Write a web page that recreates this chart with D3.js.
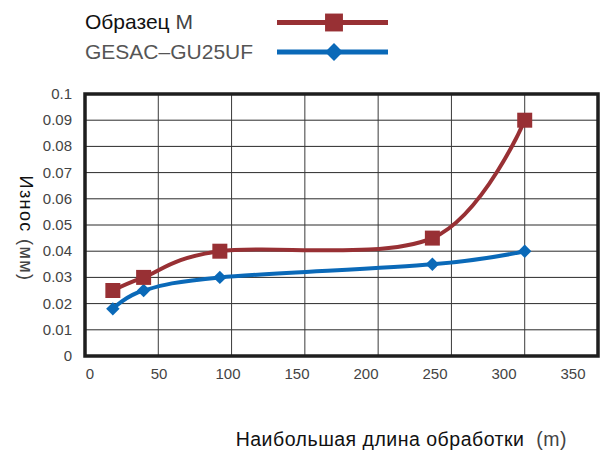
<!DOCTYPE html>
<html>
<head>
<meta charset="utf-8">
<script src="https://cdn.jsdelivr.net/npm/d3@7"></script>
<style>
  body { margin: 0; background: #fff; }
  svg { display: block; font-family: "Liberation Sans", Arial, sans-serif; }
  .pre { white-space: pre; }
</style>
</head>
<body>
<div id="chart"></div>
<script>
// data
const distance = [19, 40, 92, 237, 300];
const sampleM = [0.025, 0.030, 0.040, 0.045, 0.090];
const gesac = [0.018, 0.025, 0.030, 0.035, 0.040];
const seriesNames = ["Образец", "GESAC\u2013GU25UF"];
const xTicks = [0, 50, 100, 150, 200, 250, 300, 350];
const yTicks = [0, 0.01, 0.02, 0.03, 0.04, 0.05, 0.06, 0.07, 0.08, 0.09, 0.1];

const width = 609, height = 451;
const margin = {top: 94, right: 11, bottom: 95, left: 85};
const red = "#983034", blue = "#0a69b8";

const svg = d3.select("#chart").append("svg")
  .attr("width", width)
  .attr("height", height);

const x = d3.scaleLinear().domain([0, 350]).range([margin.left, width - margin.right]);
const y = d3.scaleLinear().domain([0, 0.1]).range([height - margin.bottom, margin.top]);
// tick labels in the original sit a bit left of their grid lines
const xLabel = d3.scaleLinear().domain([0, 350]).range([90, 573]);

// grid
svg.append("g").selectAll("line")
  .data(yTicks.slice(1, -1))
  .join("line")
  .attr("x1", x(0)).attr("x2", x(350))
  .attr("y1", d => y(d)).attr("y2", d => y(d))
  .attr("stroke", "#2a2a2a").attr("stroke-width", 1);

svg.append("g").selectAll("line")
  .data(xTicks.slice(1, -1))
  .join("line")
  .attr("x1", d => x(d)).attr("x2", d => x(d))
  .attr("y1", y(0)).attr("y2", y(0.1))
  .attr("stroke", "#3a3a3a").attr("stroke-width", 1);

svg.append("rect")
  .attr("x", x(0)).attr("y", y(0.1))
  .attr("width", x(350) - x(0)).attr("height", y(0) - y(0.1))
  .attr("fill", "none").attr("stroke", "#1e1e1e").attr("stroke-width", 3.5);

// tick labels
svg.append("g").selectAll("text")
  .data(yTicks)
  .join("text")
  .attr("x", 72)
  .attr("y", d => y(d) + 5)
  .attr("text-anchor", "end")
  .attr("font-size", 15)
  .attr("fill", "#444")
  .text(d => d3.format("~g")(d));

svg.append("g").selectAll("text")
  .data(xTicks)
  .join("text")
  .attr("x", d => xLabel(d))
  .attr("y", 379)
  .attr("text-anchor", "middle")
  .attr("font-size", 15)
  .attr("fill", "#444")
  .text(d => d);

// axis titles
const yTitle = svg.append("text")
  .attr("class", "pre")
  .attr("transform", "translate(20,228.5) rotate(90)")
  .attr("text-anchor", "middle")
  .attr("font-size", 18)
  .attr("letter-spacing", 1.4);
yTitle.append("tspan").attr("fill", "#111").text("Износ ");
yTitle.append("tspan").attr("fill", "#444").text("(мм)");

const xTitle = svg.append("text")
  .attr("class", "pre")
  .attr("x", 567).attr("y", 446)
  .attr("text-anchor", "end")
  .attr("font-size", 19.5)
  .attr("letter-spacing", 0.5);
xTitle.append("tspan").attr("fill", "#111").text("Наибольшая длина обработки  ");
xTitle.append("tspan").attr("fill", "#444").text("(m)");

// lines
const line = d3.line()
  .x((d, i) => x(distance[i]))
  .y(d => y(d))
  .curve(d3.curveCatmullRom.alpha(0));

svg.append("path").datum(sampleM)
  .attr("d", line).attr("fill", "none")
  .attr("stroke", red).attr("stroke-width", 4);

svg.append("path").datum(gesac)
  .attr("d", line).attr("fill", "none")
  .attr("stroke", blue).attr("stroke-width", 4);

const square = d3.symbol().type(d3.symbolSquare);
const diamond = d3.symbol().type(d3.symbolSquare);

svg.append("g").selectAll("path")
  .data(gesac)
  .join("path")
  .attr("transform", (d, i) => `translate(${x(distance[i])},${y(d)}) rotate(45)`)
  .attr("d", diamond.size(90))
  .attr("fill", blue);

svg.append("g").selectAll("path")
  .data(sampleM)
  .join("path")
  .attr("transform", (d, i) => `translate(${x(distance[i])},${y(d)})`)
  .attr("d", square.size(225))
  .attr("fill", red);

// legend
const legend = svg.append("g");
const leg1 = legend.append("text").attr("x", 85).attr("y", 29).attr("font-size", 21);
leg1.append("tspan").attr("fill", "#111").text(seriesNames[0] + " ");
leg1.append("tspan").attr("fill", "#444").text("M");
legend.append("text").attr("x", 85).attr("y", 59).attr("font-size", 21)
  .attr("fill", "#555").text(seriesNames[1]);

legend.append("line").attr("x1", 277).attr("x2", 388).attr("y1", 22.5).attr("y2", 22.5)
  .attr("stroke", red).attr("stroke-width", 5);
legend.append("path").attr("transform", "translate(334,22.5)")
  .attr("d", square.size(320)).attr("fill", red);

legend.append("line").attr("x1", 277).attr("x2", 388).attr("y1", 52).attr("y2", 52)
  .attr("stroke", blue).attr("stroke-width", 5);
legend.append("path").attr("transform", "translate(334,52) rotate(45)")
  .attr("d", diamond.size(160)).attr("fill", blue);
</script>
</body>
</html>
